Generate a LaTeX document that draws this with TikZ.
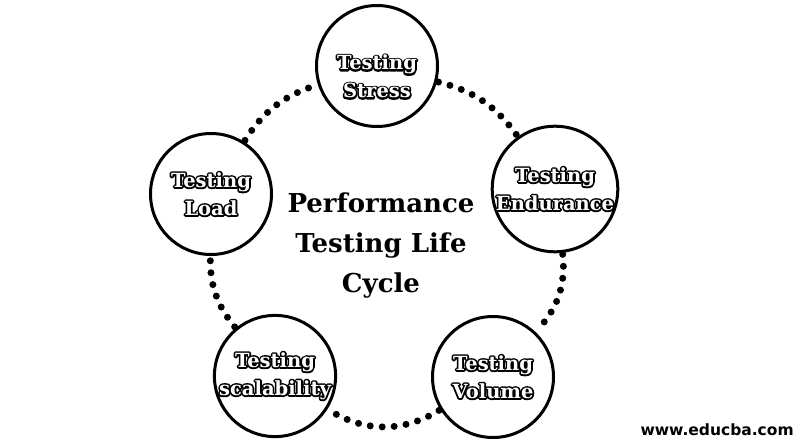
\documentclass[tikz,border=0pt]{standalone}
\usepackage{fontspec}
\setmainfont{DejaVu Serif}
\newfontfamily\webfont{DejaVu Sans}
\usetikzlibrary{calc}
% outlined white words: black stroke under a white fill
\newcommand{\outl}[1]{\rlap{\special{pdf:literal direct 1 Tr 3.4 w 1 j 0 G}#1\special{pdf:literal direct 0 Tr}}#1}

\tikzset{
  lifecircle/.style={circle, draw, line width=3pt, minimum size=121pt, inner sep=0pt,
    fill=white, text=white, align=center, font=\bfseries\fontsize{19.5}{28}\selectfont},
  dotlink/.style={line width=7pt, line cap=round, dash pattern=on 0pt off 12pt,
    shorten <=3pt, shorten >=3pt, bend left=20}
}

\begin{document}
\begin{tikzpicture}[x=1pt, y=-1pt, outer sep=0pt]
\useasboundingbox (0,0) rectangle (803,445);

\node[lifecircle] at (377, 66) (Stress) {\rule{0pt}{36pt}\outl{Testing}\\\outl{Stress}};
\node[lifecircle] at (555, 189) (Endur) {\outl{Testing}\\\outl{Endurance}};
\node[lifecircle] at (493, 377) (Vol) {\outl{Testing}\\\outl{Volume}};
\node[lifecircle] at (275, 376) (Scal) {\outl{Testing}\\\outl{scalability}};
\node[lifecircle] at (211, 194) (Load) {\outl{Testing}\\\outl{Load}};

\node[align=center, font=\bfseries\fontsize{26}{40}\selectfont] at (381, 246) (Title)
  {Performance\\Testing Life\\Cycle};

\draw [dotlink] (Stress) to (Endur);
\draw [dotlink, bend left=25] (Endur) to (Vol);
\draw [dotlink, bend left=32] (Vol) to (Scal);
\draw [dotlink] (Scal) to (Load);
\draw [dotlink] (Load) to (Stress);
%\draw [dotlink] (Load) to (Endur);

\node[font=\webfont\bfseries\fontsize{15.5}{18}\selectfont, anchor=east] at (797, 430) (Site) {www.educba.com};

\end{tikzpicture}
\end{document}
